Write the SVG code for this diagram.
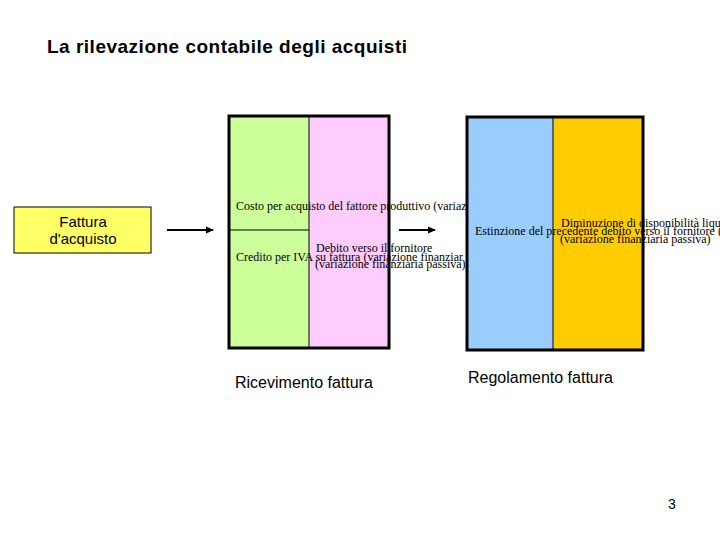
<svg xmlns="http://www.w3.org/2000/svg" width="720" height="540" viewBox="0 0 720 540">
<defs>
<marker id="ah" markerWidth="8" markerHeight="8" refX="7" refY="4" orient="auto" markerUnits="userSpaceOnUse">
<path d="M0,0.5 L8,4 L0,7.5 Z" fill="#000"/>
</marker>
<style>
.sans{font-family:"Liberation Sans",Arial,sans-serif;fill:#000}
.serif{font-family:"Liberation Serif","Times New Roman",serif;font-size:12px;fill:#000}
.frame{fill:none;stroke:#000;stroke-width:3}
.div{stroke:#000;stroke-width:1}
.conn{stroke:#000;stroke-width:2;fill:none;marker-end:url(#ah)}
</style>
</defs>
<rect width="720" height="540" fill="#fff"/>
<text class="sans" x="47" y="53" font-size="19" font-weight="bold" letter-spacing="0.5">La rilevazione contabile degli acquisti</text>

<g id="fattura">
<rect x="14" y="207" width="137" height="46" fill="#FFFF66" stroke="#000" stroke-width="1"/>
<text class="sans" x="83" y="227" font-size="15" text-anchor="middle">Fattura</text>
<text class="sans" x="83" y="244" font-size="15" text-anchor="middle">d'acquisto</text>
</g>

<g id="connectors">
<line class="conn" x1="167" y1="230" x2="213" y2="230"/>
<line class="conn" x1="399" y1="230" x2="435" y2="230"/>
</g>

<g id="ricevimento">
<rect x="229" y="116" width="80" height="232" fill="#CCFF99"/>
<rect x="309" y="116" width="80" height="232" fill="#FFCCFF"/>
<line class="div" x1="309" y1="116" x2="309" y2="348"/>
<line class="div" x1="229" y1="230" x2="309" y2="230"/>
<rect class="frame" x="229" y="116" width="160" height="232"/>
<text class="serif" x="236" y="210">Costo per acquisto del fattore produttivo (variaz</text>
<text class="serif" x="316" y="252">Debito verso il fornitore</text>
<text class="serif" x="315" y="268">(variazione finanziaria passiva)</text>
<text class="serif" x="236" y="261">Credito per IVA su fattura (variazione finanziar</text>
<text class="sans" x="235" y="388" font-size="16">Ricevimento fattura</text>
</g>

<g id="regolamento">
<rect x="467" y="117" width="86" height="233" fill="#99CCFF"/>
<rect x="553" y="117" width="90" height="233" fill="#FFCC00"/>
<line class="div" x1="553" y1="117" x2="553" y2="350"/>
<rect class="frame" x="467" y="117" width="176" height="233"/>
<text class="serif" x="475" y="235">Estinzione del precedente debito verso il fornitore (</text>
<text class="serif" x="561" y="227">Diminuzione di disponibilità liqu</text>
<text class="serif" x="560" y="243">(variazione finanziaria passiva)</text>
<text class="sans" x="468" y="383" font-size="16">Regolamento fattura</text>
</g>

<text class="sans" x="668" y="509" font-size="14">3</text>
</svg>
